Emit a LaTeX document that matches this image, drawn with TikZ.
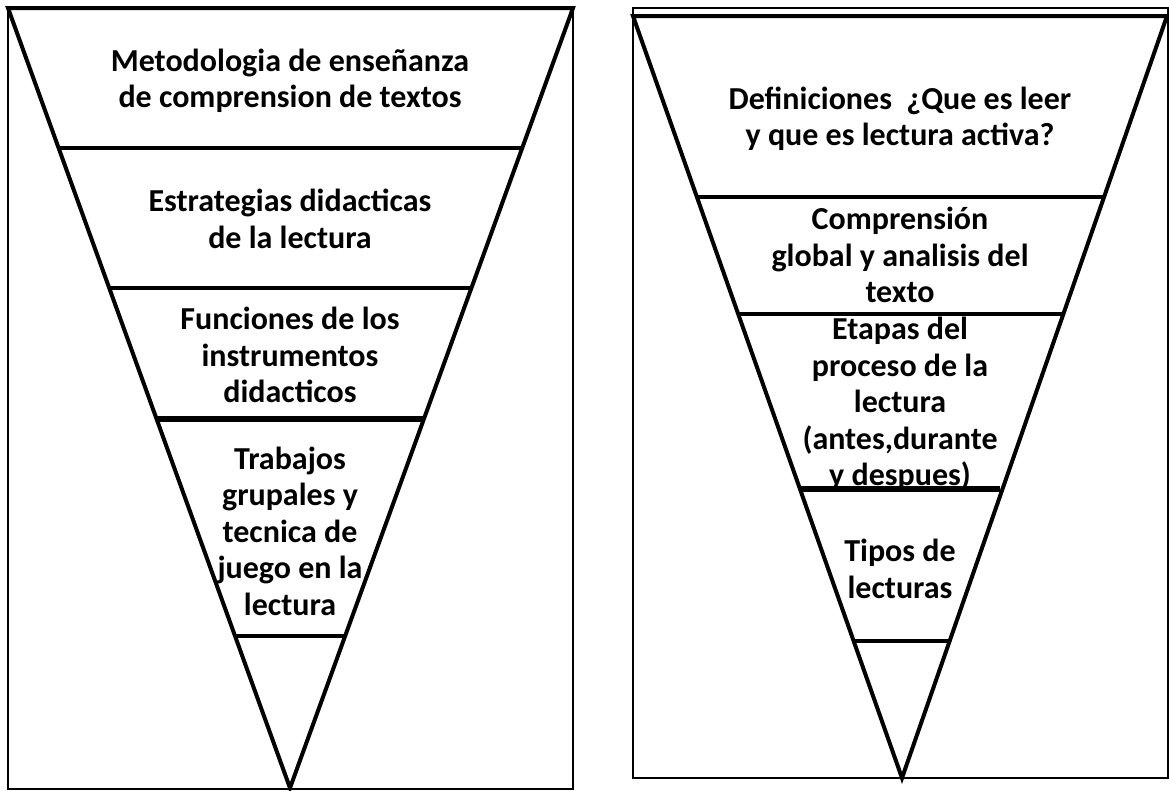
\documentclass[tikz,border=0pt]{standalone}
\usepackage{fontspec}
\setmainfont{Carlito}
\tikzset{
  frame/.style={line width=1.3pt, draw=black},
  tri/.style={line width=4pt, line join=miter, draw=black},
  sep/.style={line width=4pt, draw=black},
  septhick/.style={line width=5.5pt, draw=black},
  lbl/.style={align=center, inner sep=0pt, font=\fontsize{32}{36.5}\selectfont\bfseries}
}
\begin{document}
\begin{tikzpicture}[x=1pt,y=-1pt]
\useasboundingbox (0,0) rectangle (1169,790);
% left panel
\draw[frame] (8,8) rectangle (573,789);
\draw[tri] (8,8) -- (573,8) -- (290,788) -- cycle;
\draw[sep] (58.6,148) -- (522,148);
\draw[sep] (109,288) -- (471,288);
\draw[septhick] (156,419) -- (423.5,419);
\draw[sep] (235,636) -- (346,636);
\node[lbl] (l1) at (290,81) {Metodologia de enseñanza\\de comprension de textos};
\node[lbl] (l2) at (290,219) {Estrategias didacticas\\de la lectura};
\node[lbl] (l3) at (290,355) {Funciones de los\\instrumentos\\didacticos};
\node[lbl] (l4) at (290,531) {Trabajos\\grupales y\\tecnica de\\juego en la\\lectura};
% right panel
\draw[frame] (633,8) rectangle (1168,778);
\draw[tri] (633,16) -- (1167,16) -- (902,778) -- cycle;
\draw[sep] (697,197) -- (1105,197);
\draw[sep] (738,314) -- (1064,314);
\draw[septhick] (800,489) -- (1000,489);
\draw[sep] (855,641) -- (948,641);
\node[lbl] (r1) at (900,119) {Definiciones\ \ ¿Que es leer\\y que es lectura activa?};
\node[lbl] (r2) at (900,255) {Comprensión\\global y analisis del\\texto};
\node[lbl] (r3) at (900,404) {Etapas del\\proceso de la\\lectura\\(antes,durante\\y despues)};
\node[lbl] (r4) at (900,569) {Tipos de\\lecturas};
\end{tikzpicture}
\end{document}
